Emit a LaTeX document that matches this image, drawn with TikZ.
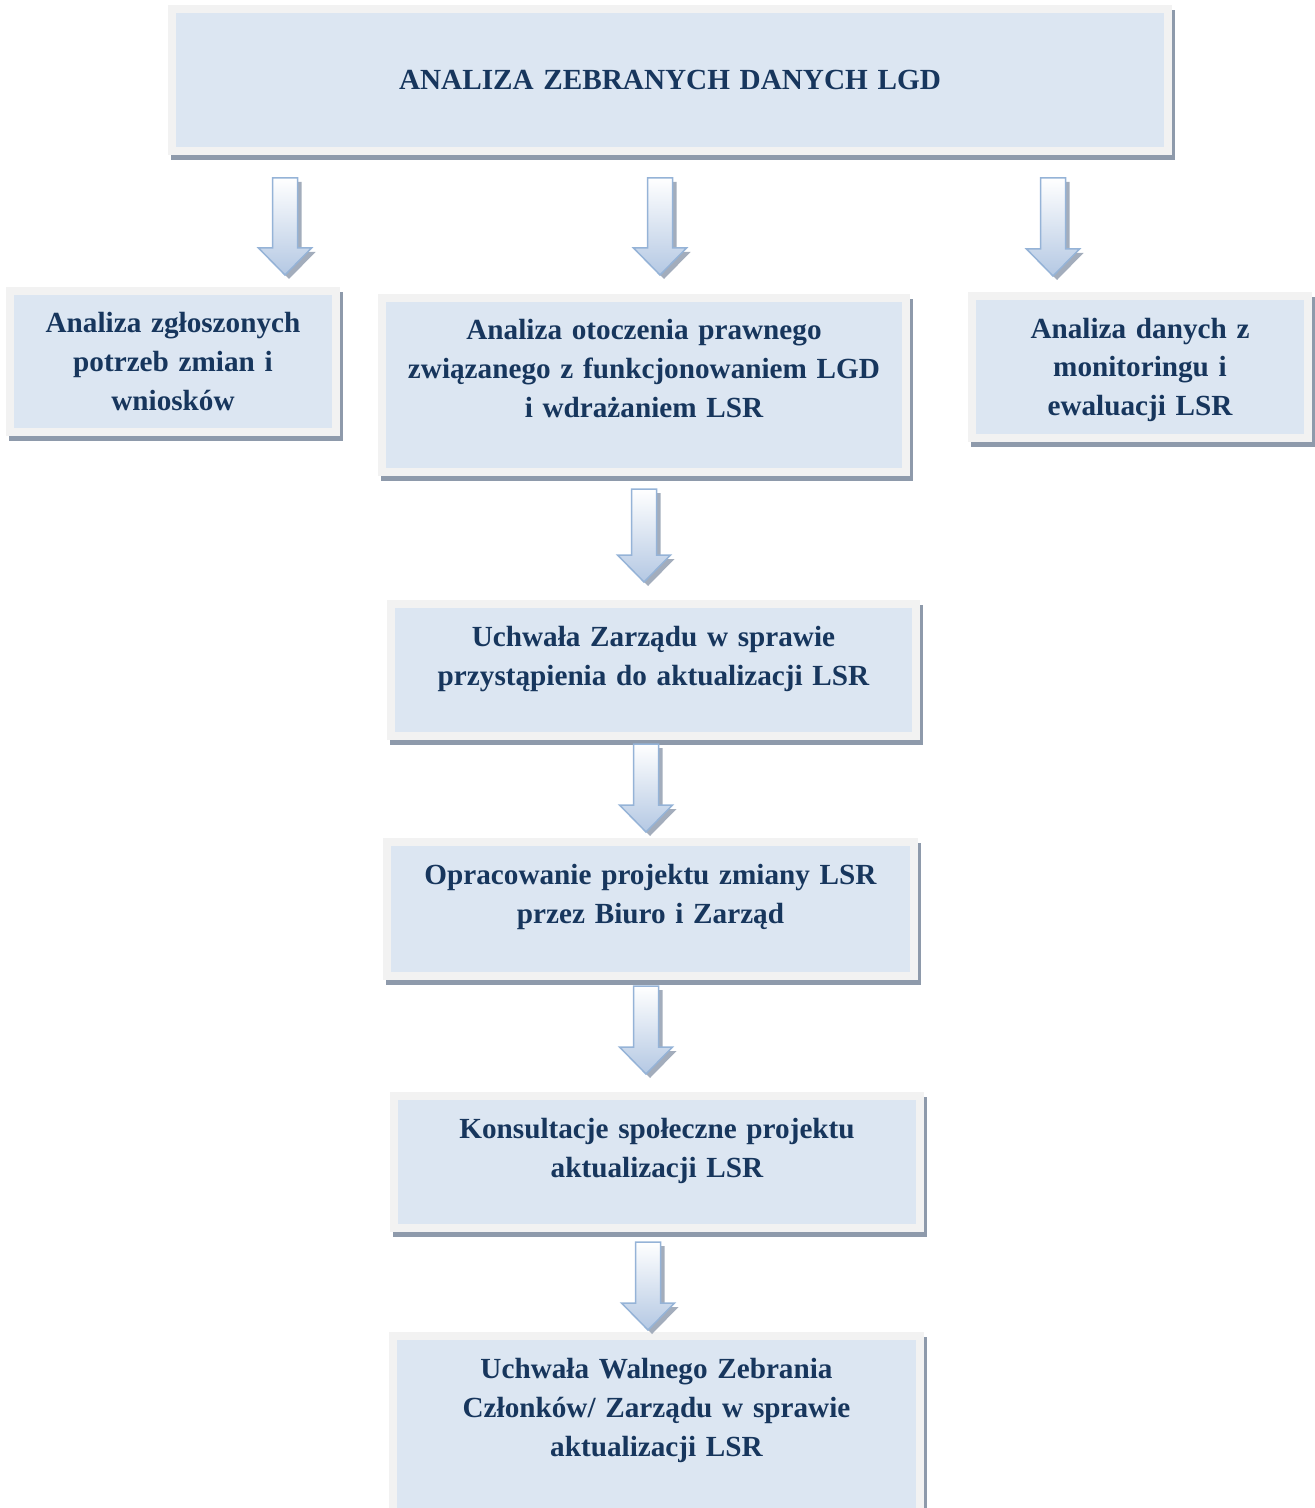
\documentclass[tikz,border=0pt]{standalone}
\usepackage{fontspec}
\setmainfont{Liberation Serif}
\usetikzlibrary{calc}
\definecolor{framegray}{HTML}{F2F2F2}
\definecolor{boxfill}{HTML}{DCE6F2}
\definecolor{navytext}{HTML}{17365D}
\definecolor{boxshadow}{HTML}{8E9AAB}
\definecolor{arrowline}{HTML}{95B3D7}
\definecolor{arrowfill}{HTML}{B4C8E3}
\definecolor{arrowshadow}{HTML}{A3ADBC}
\def\flowarrow(#1)(#2){%
	\fill[arrowshadow] let \p1=(#1), \p2=(#2) in
		({\x1-4.25pt},{\y1-2pt}) -- ({\x1+8.25pt},{\y1-2pt}) -- ({\x1+8.25pt},{\y2+11.5pt})
		-- ({\x1+15.25pt},{\y2+11.5pt}) -- ({\x1+2pt},{\y2-2pt}) -- ({\x1-11.25pt},{\y2+11.5pt})
		-- ({\x1-4.25pt},{\y2+11.5pt}) -- cycle;
	\draw[arrowbody] let \p1=(#1), \p2=(#2) in
		({\x1-6.25pt},\y1) -- ({\x1+6.25pt},\y1) -- ({\x1+6.25pt},{\y2+13.5pt})
		-- ({\x1+13.25pt},{\y2+13.5pt}) -- (\x1,\y2) -- ({\x1-13.25pt},{\y2+13.5pt})
		-- ({\x1-6.25pt},{\y2+13.5pt}) -- cycle;}
\tikzset{
	stage/.style={draw=framegray, fill=boxfill, line width=4pt, anchor=north, outer sep=0pt,
		inner xsep=4pt, inner ysep=10pt, text height=11pt, align=center, text=navytext,
		font=\fontsize{14.6}{19.5}\selectfont\bfseries,
		preaction={draw=boxshadow, fill=boxshadow, line width=4pt,
			transform canvas={xshift=1.5pt, yshift=-2.5pt}}},
	arrowbody/.style={draw=arrowline, line width=0.75pt, line join=miter,
		top color=white, bottom color=arrowfill}
}

\begin{document}
\begin{tikzpicture}[x=0.5pt, y=-0.5pt]
		%%%%% START %%%%%
		\useasboundingbox (0,0) rectangle (1314,1508);
		
		\node[stage, text width=490pt, text height=30.5pt, text depth=20.5pt] (zebrane) at (670,9)
			{ANALIZA ZEBRANYCH DANYCH LGD};
		
		\node[stage, text width=155pt, text depth=39.5pt] (potrzeby) at (173,291)
			{Analiza zgłoszonych\\potrzeb zmian i\\wniosków};
		\node[stage, text width=254pt, text depth=56pt] (otoczenie) at (644,298)
			{Analiza otoczenia prawnego\\związanego z funkcjonowaniem LGD\\i wdrażaniem LSR};
		\node[stage, text width=160pt, text depth=40pt] (monitoring) at (1140,296)
			{Analiza danych z\\monitoringu i\\ewaluacji LSR};
		
		\node[stage, text width=254.5pt, text depth=35pt] (uchwala) at (653.5,604)
			{Uchwała Zarządu w sprawie\\przystąpienia do aktualizacji LSR};
		\node[stage, text width=255.5pt, text depth=36pt] (projekt) at (650.5,842)
			{Opracowanie projektu zmiany LSR\\przez Biuro i Zarząd};
		\node[stage, text width=255pt, text depth=35pt] (konsultacje) at (657,1096)
			{Konsultacje społeczne projektu\\aktualizacji LSR};
		\node[stage, text width=255.5pt, text depth=57pt] (walne) at (656.5,1336)
			{Uchwała Walnego Zebrania\\Członków/ Zarządu w sprawie\\aktualizacji LSR};
		
		% block arrows
		\coordinate (a1) at (285,178);  \coordinate (a1tip) at (285,275);
		\coordinate (a2) at (660,178);  \coordinate (a2tip) at (660,275);
		\coordinate (a3) at (1053,178); \coordinate (a3tip) at (1053,276);
		\coordinate (a4) at (644,489);  \coordinate (a4tip) at (644,582);
		\coordinate (a5) at (646,744);  \coordinate (a5tip) at (646,832);
		\coordinate (a6) at (646,986);  \coordinate (a6tip) at (646,1074);
		\coordinate (a7) at (648,1242); \coordinate (a7tip) at (648,1330);
		
		\flowarrow(a1)(a1tip)
		\flowarrow(a2)(a2tip)
		\flowarrow(a3)(a3tip)
		\flowarrow(a4)(a4tip)
		\flowarrow(a5)(a5tip)
		\flowarrow(a6)(a6tip)
		\flowarrow(a7)(a7tip)
		
		%%%%% END %%%%%
\end{tikzpicture}
\end{document}
